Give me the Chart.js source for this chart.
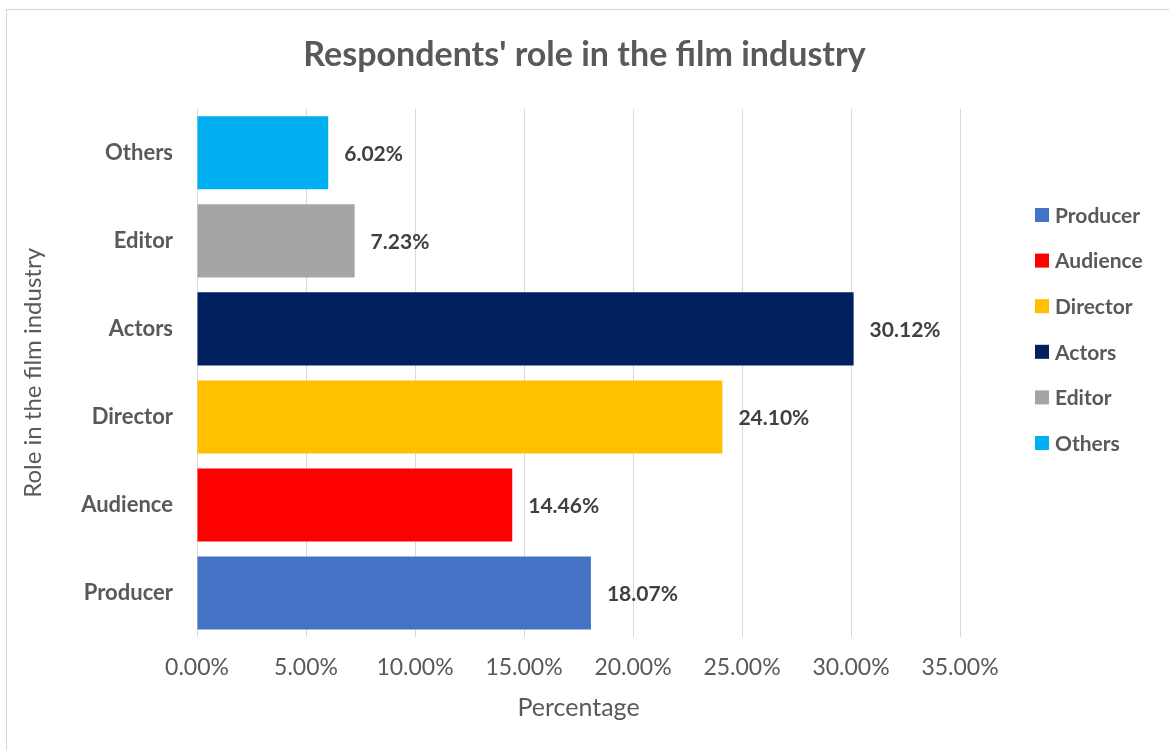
<!DOCTYPE html>
<html lang="en">
<head>
<meta charset="UTF-8">
<title>Respondents' role in the film industry</title>
<style>
  body { margin: 0; background: #fff; overflow: hidden; }
  .wrap { position: absolute; left: 0; top: 0; width: 1169px; height: 750px; }
  /* chart frame, only the top and left edges are visible in the window */
  .frame {
    position: absolute; left: 6px; top: 9px; width: 1200px; height: 800px;
    border-top: 1px solid #d4d4d4; border-left: 1px solid #d4d4d4;
    pointer-events: none;
  }
</style>
<script src="https://cdn.jsdelivr.net/npm/chart.js"></script>
</head>
<body>
<div class="wrap"><canvas id="roleChart" width="1169" height="750"></canvas></div>
<div class="frame"></div>
<script>
// Data (bottom to top on the chart)
const roles = ['Producer', 'Audience', 'Director', 'Actors', 'Editor', 'Others'];
const shares = [18.07, 14.46, 24.10, 30.12, 7.23, 6.02];
const roleColors = ['#4472C4', '#FF0000', '#FFC000', '#002060', '#A5A5A5', '#00B0F0'];
const xTicks = [0, 5, 10, 15, 20, 25, 30, 35];

const textGray = '#595959';

// value labels at the end of each bar
const barLabels = {
    id: 'barLabels',
    afterDatasetsDraw(chart) {
        const ctx = chart.ctx;
        const meta = chart.getDatasetMeta(0);
        ctx.save();
        ctx.font = 'bold 21px Lato';
        ctx.fillStyle = '#404040';
        ctx.textAlign = 'left';
        ctx.textBaseline = 'middle';
        meta.data.forEach((bar, i) => {
            ctx.fillText(shares[i].toFixed(2) + '%', bar.x + 16, bar.y + 1);
        });
        ctx.restore();
    }
};

// legend on the right, one entry per role
const sideLegend = {
    id: 'sideLegend',
    afterDraw(chart) {
        const ctx = chart.ctx;
        ctx.save();
        ctx.font = 'bold 21px Lato';
        ctx.textAlign = 'left';
        ctx.textBaseline = 'middle';
        roles.forEach((role, i) => {
            const y = 215 + i * 45.6;
            ctx.fillStyle = roleColors[i];
            ctx.fillRect(1035, y - 7, 14, 14);
            ctx.fillStyle = textGray;
            ctx.fillText(role, 1055, y + 1);
        });
        ctx.restore();
    }
};

function drawChart() {
    Chart.defaults.font.family = 'Lato';
    new Chart(document.getElementById('roleChart'), {
        type: 'bar',
        data: {
            labels: roles,
            datasets: [{
                data: shares,
                backgroundColor: roleColors,
                barPercentage: 0.83,
                categoryPercentage: 1
            }]
        },
        options: {
            indexAxis: 'y',
            responsive: false,
            animation: false,
            layout: { padding: 0 },
            plugins: {
                legend: { display: false },
                tooltip: { enabled: false },
                title: {
                    display: true,
                    text: "Respondents' role in the film industry",
                    color: textGray,
                    font: { size: 34, weight: 'bold' },
                    padding: { top: 35, bottom: 33 }
                }
            },
            scales: {
                x: {
                    min: 0,
                    max: 35,
                    afterBuildTicks: s => { s.ticks = xTicks.map(v => ({ value: v })); },
                    ticks: {
                        callback: v => v.toFixed(2) + '%',
                        color: textGray,
                        font: { size: 23 },
                        padding: 17
                    },
                    grid: { color: '#d9d9d9', drawTicks: false },
                    border: { display: false },
                    title: {
                        display: true,
                        text: 'Percentage',
                        color: textGray,
                        font: { size: 25 },
                        padding: { top: 0, bottom: 27 }
                    },
                    afterFit: s => { s.height = 113; }
                },
                y: {
                    reverse: true,
                    grid: { display: false },
                    border: { display: false },
                    ticks: {
                        color: textGray,
                        font: { size: 22, weight: 'bold' },
                        padding: 16
                    },
                    title: {
                        display: true,
                        text: 'Role in the film industry',
                        color: textGray,
                        font: { size: 24 },
                        padding: { top: 19, bottom: 0 }
                    },
                    afterFit: s => { s.width = 197; }
                },
                // empty axis that keeps room for the legend
                spacer: {
                    type: 'linear',
                    axis: 'y',
                    position: 'right',
                    ticks: { display: false },
                    grid: { display: false },
                    border: { display: false },
                    afterFit: s => { s.width = 209; }
                }
            }
        },
        plugins: [barLabels, sideLegend]
    });
}

Promise.all([
    document.fonts.load('21px Lato'),
    document.fonts.load('bold 21px Lato')
]).then(drawChart, drawChart);
</script>
</body>
</html>
